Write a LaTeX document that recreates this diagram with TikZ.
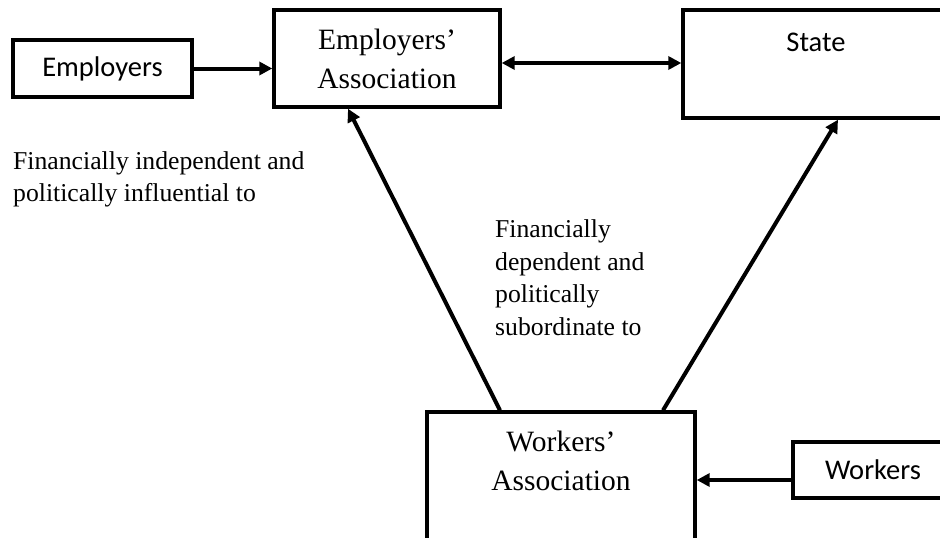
\documentclass[tikz,border=0pt]{standalone}
\usepackage{fontspec}
\setmainfont{Liberation Serif}
\newfontfamily\calibfont{Carlito}
\usetikzlibrary{arrows.meta}

\begin{document}
\begin{tikzpicture}[x=1pt, y=-1pt,
    box/.style={draw, line width=3.4pt, inner sep=0pt},
    serifbox/.style={box, align=center, font=\fontsize{29.5}{39}\selectfont},
    sansbox/.style={box, font=\calibfont\fontsize{28.5}{34}\selectfont},
    arr/.tip={Triangle[length=13pt, width=13pt]},
    link/.style={line width=4pt, -arr},
    note/.style={anchor=north west, inner sep=0pt, align=left,
      font=\fontsize{25.7}{32.5}\selectfont}]
  \clip (0, 0) rectangle (940, 538);
  % the four actors
  \node[sansbox, minimum width=179pt, minimum height=57pt] (emp) at (102.5, 68.5)
    {Employers};
  \node[serifbox, minimum width=226pt, minimum height=97pt] (ea) at (387, 58.5)
    {Employers'\\Association};
  \node[box, minimum width=266pt, minimum height=108pt] (state) at (816, 64) {};
  \node[sansbox, draw=none, anchor=base] (statetxt) at (816, 51) {State};
  \node[box, minimum width=268pt, minimum height=160pt] (wa) at (561, 492) {};
  \node[serifbox, draw=none, anchor=north] (watxt) at (561, 429)
    {Workers'\\Association};
  \node[sansbox, minimum width=160pt, minimum height=56pt] (work) at (873, 470)
    {Workers};
  % relations
  \draw[link] (emp.east) -- (emp.east -| ea.west);
  \draw[link, arr-arr]
    ([yshift=-4.5pt]ea.east) -- ([yshift=-4.5pt]ea.east -| state.west);
  \draw[link] ([yshift=-10pt]work.west) -- ([yshift=-10pt]work.west -| wa.east);
  \draw[link] ([xshift=-61pt]wa.north) -- ([xshift=-39pt]ea.south);
  \draw[link] ([xshift=102pt]wa.north) -- ([xshift=22pt]state.south);
  % notes
  \node[note] (indep) at (13, 151)
    {Financially independent and\\politically influential to};
  \node[note] (dep) at (495, 219.5)
    {Financially\\dependent and\\politically\\subordinate to};
\end{tikzpicture}
\end{document}
